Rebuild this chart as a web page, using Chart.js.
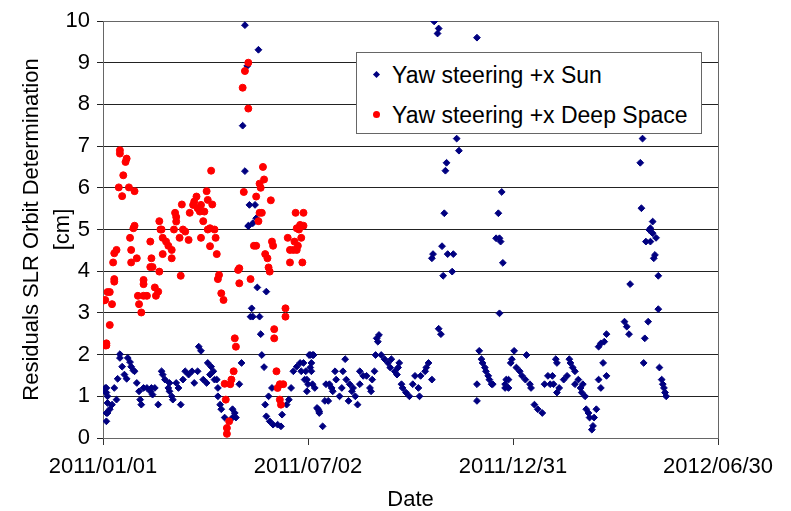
<!DOCTYPE html>
<html>
<head>
<meta charset="utf-8">
<script src="https://cdn.jsdelivr.net/npm/chart.js@4/dist/chart.umd.min.js"></script>
<style>
body { margin: 0; background: #fff; }
#wrap { position: relative; width: 791px; height: 511px; }
#legend {
    position: absolute; left: 356px; top: 52px; width: 344px; height: 80px;
    border: 1px solid #666; background: #fff;
    font-family: 'Liberation Sans', Arial, sans-serif; font-size: 23px; color: #000;
}
.row { position: absolute; left: 35px; height: 30px; line-height: 30px; white-space: nowrap; }
.mk { position: absolute; }
</style>
</head>
<body>
<div id="wrap">
    <canvas id="slrChart" width="791" height="511"></canvas>
    <div id="legend"></div>
</div>
<script>
// days since 2011/01/01, residual in cm
const tickDays = [0, 182, 364, 546];
const tickLabels = ['2011/01/01', '2011/07/02', '2011/12/31', '2012/06/30'];
const seriesNames = ['Yaw steering +x Sun', 'Yaw steering +x Deep Space'];

const sunSeries = [
    [3,1.2],[3,1.09],[4,1.0],[4,0.84],[3,0.6],[2,1.2],[2,1.1],[3,0.4],[4,0.6],[6,0.69],[8,0.8],[10,1.2],[12,0.92],
    [13,1.42],[15,2.01],[15,1.92],[17,1.71],[19,1.52],[21,1.42],[22,1.92],[24,1.82],[25,1.71],[27,1.62],[28,1.6],
    [30,1.32],[32,1.12],[33,0.92],[34,0.8],[36,1.2],[39,1.2],[42,1.12],[43,1.2],[44,1.04],[46,1.2],[49,0.8],
    [52,1.6],[53,1.52],[55,1.4],[58,1.2],[59,1.12],[59,1.32],[61,1.0],[62,0.92],[65,1.32],[67,1.2],[69,0.8],
    [71,1.4],[73,1.6],[76,1.52],[79,1.6],[81,1.32],[84,1.6],[85,2.19],[87,2.09],[89,1.4],[92,1.32],[93,1.8],
    [95,1.52],[96,1.71],[98,1.6],[99,1.4],[101,1.4],[102,1.2],[102,1.0],[104,0.8],[105,0.69],[108,0.49],
    [115,0.69],[115,0.49],[117,0.6],[118,0.49],[121,1.29],[123,1.8],
    [124,7.49],[126,9.9],[126,6.4],[128,8.92],[129,5.08],[129,5.09],[130,5.59],[133,5.15],[135,5.59],[136,5.27],[138,9.31],
    [131,2.91],[132,3.11],[133,2.91],[137,3.61],[139,2.91],[140,2.49],[141,1.99],[143,1.7],[145,3.51],
    [144,0.8],[145,0.52],[147,1.0],[148,0.4],[150,1.2],[151,0.32],[155,0.32],[158,0.28],[159,0.56],[163,0.8],
    [165,0.92],[167,1.2],[169,1.6],[172,1.71],[175,1.8],[176,1.6],[178,1.8],[179,1.4],[180,1.6],[181,1.4],
    [181,1.12],[182,1.29],[183,1.99],[184,1.99],[184,1.69],[185,1.6],[185,1.8],[186,1.99],[186,1.29],[187,1.99],
    [188,1.2],[190,0.72],[191,0.69],[192,0.64],[192,0.6],[195,0.28],[197,0.89],[198,1.29],[200,0.89],[201,1.29],
    [203,1.2],[204,1.12],[206,1.6],[207,1.4],[210,1.0],[212,1.2],[213,1.6],[215,1.89],[216,1.4],[218,0.89],
    [219,1.29],[221,1.12],[222,1.2],[224,1.0],[226,0.8],[228,1.29],[228,1.6],[231,1.49],[234,1.49],[237,1.2],
    [238,1.12],[239,1.4],[241,1.6],[242,1.99],[243,2.39],[244,2.31],[245,2.47],[247,1.99],[250,1.89],[253,1.8],
    [255,1.69],[256,1.89],[259,1.6],[261,1.52],[262,1.69],[263,1.8],[265,1.29],[266,1.2],[269,1.09],[272,1.0],
    [275,1.29],[277,1.49],[280,1.2],[281,1.0],[282,1.49],[286,1.6],[287,1.69],[289,1.8],[292,1.4],
    [292,4.31],[293,4.41],[294,9.99],[297,9.7],[298,9.82],[298,2.62],[300,2.49],[301,4.6],[302,3.89],[303,5.39],
    [304,6.41],[305,6.6],[306,4.41],[310,3.99],[311,4.41],[314,7.18],[316,6.89],[332,9.6],
    [332,0.89],[332,1.29],[334,2.09],[336,1.89],[337,1.8],[339,1.69],[340,1.6],[342,1.49],[343,1.4],[345,1.29],
    [346,1.29],[349,4.79],[351,5.39],[352,4.79],[352,2.99],[353,4.71],[354,5.9],[355,4.2],[357,1.29],[357,1.2],
    [358,1.4],[360,1.2],[360,1.4],[362,1.8],[363,1.89],[365,2.09],[367,1.69],[370,1.6],[372,1.49],[375,1.4],
    [376,1.99],[379,1.29],[380,1.2],[383,0.8],[386,0.69],[390,0.6],[392,1.29],[395,1.49],[397,1.29],[399,1.49],
    [400,1.29],[402,1.89],[403,1.8],[403,1.09],[405,1.2],[409,1.4],[412,1.49],[414,1.89],[415,1.8],[417,1.69],
    [419,1.6],[419,1.29],[422,1.4],[424,1.2],[425,1.09],[426,1.29],[428,1.0],[429,0.69],[431,0.6],[432,0.49],
    [434,0.2],[435,0.29],[436,0.49],[438,0.69],[440,1.4],[440,2.19],[442,1.2],[442,2.27],[444,1.8],[445,2.31],
    [447,1.49],[447,2.49],[463,2.79],[465,2.67],[467,2.49],[468,3.69],[477,6.6],[478,5.51],[479,7.18],[480,1.8],
    [481,2.39],[482,4.71],[484,2.79],[485,4.99],[486,4.71],[486,5.03],[488,4.91],[488,5.19],[489,4.31],[490,4.39],
    [491,4.8],[493,3.89],[493,3.09],[494,1.69],[496,1.4],[497,1.29],[498,1.2],[499,1.09],[500,1.0]
];

const deepSeries = [
    [1,3.3],[2,3.31],[2,2.22],[3,2.22],[3,2.27],[4,3.5],[6,3.5],[6,2.71],[8,3.21],[9,4.21],[10,4.43],[10,3.75],
    [10,3.81],[12,4.51],[14,6.01],[15,6.9],[15,6.82],[17,5.8],[18,6.3],[20,6.62],[21,6.7],[23,6.01],[24,4.8],
    [25,4.51],[25,4.21],[27,5.03],[28,5.09],[28,5.92],[30,4.31],[31,3.41],[32,3.21],[34,3.01],[36,3.79],[36,3.69],
    [36,3.41],[39,3.41],[42,4.1],[42,4.71],[43,4.31],[44,4.1],[46,3.61],[47,3.41],[49,3.51],[50,3.99],[50,5.2],
    [51,5.0],[52,5.0],[53,4.8],[53,4.41],[56,4.71],[58,4.61],[61,4.51],[61,4.31],[63,5.0],[64,5.4],[65,5.3],
    [65,5.19],[68,4.8],[69,3.89],[70,5.6],[71,5.0],[73,4.95],[76,4.75],[77,5.4],[80,5.59],[81,5.67],[83,5.79],
    [84,5.51],[86,5.43],[87,5.59],[87,4.8],[89,5.2],[90,5.43],[92,5.92],[93,5.71],[93,5.0],[95,5.03],[95,4.6],
    [96,6.41],[97,5.6],[99,5.0],[100,4.8],[101,4.41],[102,3.81],[103,3.91],[105,3.47],[107,3.31],[108,1.3],
    [109,0.92],[110,0.24],[110,0.1],[112,0.4],[113,1.29],[114,1.4],[116,1.6],[117,2.39],[118,2.19],[120,4.03],
    [121,4.07],[121,3.71],[124,8.4],[125,5.9],[126,8.8],[129,9.0],[129,7.9],[131,3.81],[134,4.61],[136,5.79],
    [136,4.61],[138,5.2],[139,6.1],[139,5.4],[140,6.0],[141,5.4],[142,6.5],[143,6.2],[144,4.41],[146,4.31],
    [147,4.09],[148,3.99],[149,5.7],[150,4.71],[151,4.61],[152,2.61],[152,2.39],[154,1.6],[155,1.2],[157,1.29],
    [157,0.92],[158,0.8],[160,1.29],[162,3.11],[162,2.91],[164,4.8],[166,4.51],[166,4.21],[169,4.51],[170,4.71],
    [171,5.4],[172,4.51],[172,5.03],[173,4.61],[174,5.0],[175,5.11],[176,4.8],[177,4.21],[178,5.4],[178,5.09]
];

const FONT = "'Liberation Sans', Arial, sans-serif";

const frame = {
    id: 'frame',
    beforeDatasetsDraw(chart) {
        const { ctx, chartArea: a } = chart;
        ctx.save();
        ctx.strokeStyle = '#666';
        ctx.lineWidth = 1;
        ctx.strokeRect(Math.round(a.left) + 0.5, Math.round(a.top) + 0.5,
            Math.round(a.right - a.left), Math.round(a.bottom - a.top));
        ctx.restore();
    }
};

const ctx = document.getElementById('slrChart').getContext('2d');
const chart = new Chart(ctx, {
    type: 'scatter',
    data: {
        datasets: [
            {
                label: seriesNames[0],
                data: sunSeries.map(p => ({ x: p[0], y: p[1] })),
                pointStyle: 'rectRot',
                pointRadius: 3.4,
                backgroundColor: '#000080',
                borderColor: '#000080',
                borderWidth: 1,
                order: 1
            },
            {
                label: seriesNames[1],
                data: deepSeries.map(p => ({ x: p[0], y: p[1] })),
                pointStyle: 'circle',
                pointRadius: 3.5,
                backgroundColor: '#ff0000',
                borderColor: '#ff0000',
                borderWidth: 1,
                order: 0
            }
        ]
    },
    options: {
        responsive: false,
        animation: false,
        layout: { padding: { top: 21, right: 73, left: 17, bottom: 0 } },
        plugins: { legend: { display: false }, tooltip: { enabled: false } },
        scales: {
            x: {
                type: 'linear',
                min: 0,
                max: 546,
                afterBuildTicks: s => { s.ticks = tickDays.map(v => ({ value: v })); },
                afterFit: s => { s.height = 73; },
                ticks: {
                    callback: v => tickLabels[tickDays.indexOf(v)],
                    color: '#000',
                    font: { family: FONT, size: 22 },
                    padding: 9,
                    maxRotation: 0
                },
                grid: { drawOnChartArea: false, color: '#333', tickLength: 7 },
                border: { color: '#333', width: 1 },
                title: {
                    display: true,
                    text: 'Date',
                    color: '#000',
                    font: { family: FONT, size: 22 },
                    padding: { top: 0, bottom: -2 }
                }
            },
            y: {
                min: 0,
                max: 10,
                afterFit: s => { s.width = 86; },
                ticks: {
                    stepSize: 1,
                    color: '#000',
                    font: { family: FONT, size: 22 },
                    padding: 7
                },
                grid: { color: '#222', tickLength: 6 },
                border: { color: '#000', width: 1 },
                title: {
                    display: true,
                    text: ['Residuals SLR Orbit Determination', '[cm]'],
                    color: '#000',
                    font: { family: FONT, size: 22, lineHeight: 1.4 },
                    padding: { top: 0, bottom: 0 }
                }
            }
        }
    },
    plugins: [frame]
});

// legend box inside the plot, like the original
const legend = document.getElementById('legend');
chart.data.datasets.forEach((ds, i) => {
    const row = document.createElement('div');
    row.className = 'row';
    row.style.top = (7 + i * 40) + 'px';
    row.textContent = ds.label;
    legend.appendChild(row);
    const mk = document.createElement('div');
    mk.className = 'mk';
    if (ds.pointStyle === 'rectRot') {
        mk.style.cssText = 'left:17px;top:' + (19 + i * 40) + 'px;width:5px;height:5px;transform:rotate(45deg);background:' + ds.backgroundColor;
    } else {
        mk.style.cssText = 'left:16px;top:' + (18 + i * 40) + 'px;width:7px;height:7px;border-radius:50%;background:' + ds.backgroundColor;
    }
    legend.appendChild(mk);
});
</script>
</body>
</html>
